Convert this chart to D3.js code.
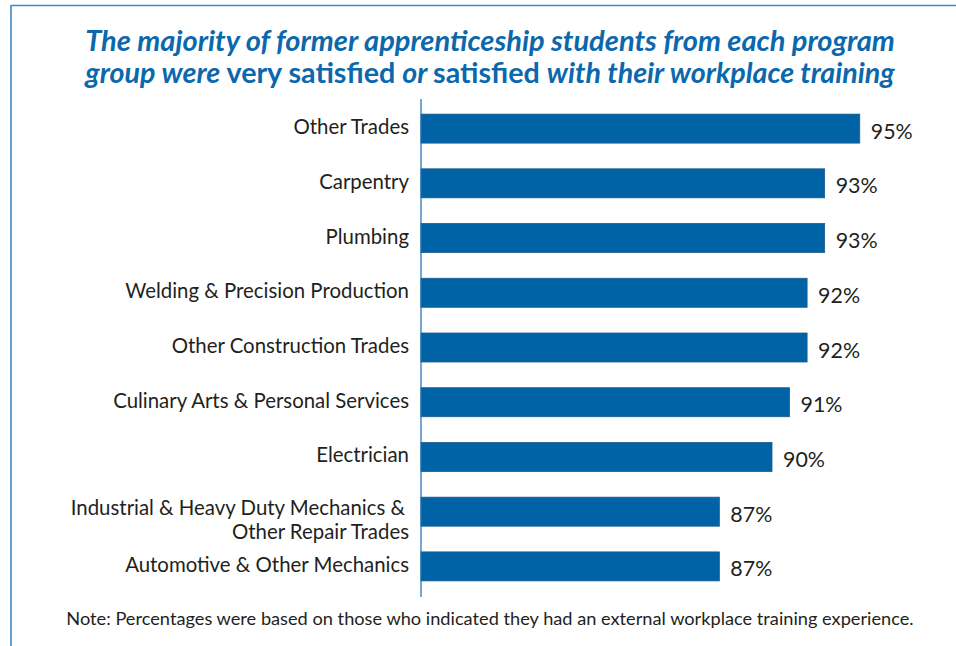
<!DOCTYPE html>
<html>
<head>
<meta charset="utf-8">
<script src="https://cdn.jsdelivr.net/npm/d3@7"></script>
<style>
  html, body { margin: 0; padding: 0; background: #ffffff; }
  svg { display: block; }
</style>
</head>
<body>
<svg id="chart" width="956" height="646"></svg>
<script>
// Program groups, top to bottom
const categories = [
  "Other Trades",
  "Carpentry",
  "Plumbing",
  "Welding & Precision Production",
  "Other Construction Trades",
  "Culinary Arts & Personal Services",
  "Electrician",
  "Industrial & Heavy Duty Mechanics &|Other Repair Trades",
  "Automotive & Other Mechanics"
];
// Percent very satisfied or satisfied
const satisfied = [95, 93, 93, 92, 92, 91, 90, 87, 87];

const titleLines = [
  [{t: "The majority of former apprenticeship students from each program", it: true}],
  [{t: "group were ", it: true}, {t: "very satisfied ", it: false}, {t: "or ", it: true},
   {t: "satisfied ", it: false}, {t: "with their workplace training", it: true}]
];
const note = "Note: Percentages were based on those who indicated they had an external workplace training experience.";

const data = categories.map((c, i) => ({ cat: c, value: satisfied[i] }));

const svg = d3.select("#chart");
const FONT = "Lato, 'Open Sans', sans-serif";
const BLUE = "#0063a6";
const TEXT = "#231f20";

// size a text so that its rendered width equals the given width
function fitWidth(sel, baseSize, width) {
  sel.attr("font-size", baseSize);
  const w = sel.node().getComputedTextLength();
  sel.attr("font-size", baseSize * width / w);
  return baseSize * width / w;
}

// Frame lines along the top and left
svg.append("line").attr("x1", 11).attr("x2", 956).attr("y1", 5.5).attr("y2", 5.5)
  .attr("stroke", "#3a88c9").attr("stroke-width", 1.6);
svg.append("line").attr("x1", 11).attr("x2", 11).attr("y1", 5).attr("y2", 646)
  .attr("stroke", "#3a88c9").attr("stroke-width", 1.6);

// Title
const titleY = [51, 83];
titleLines.forEach((parts, li) => {
  const t = svg.append("text")
    .attr("x", 490).attr("y", titleY[li])
    .attr("text-anchor", "middle")
    .attr("font-family", FONT)
    .attr("font-weight", 700)
    .attr("fill", "#0b68ad");
  parts.forEach(p => {
    t.append("tspan").attr("font-style", p.it ? "italic" : "normal").text(p.t);
  });
  fitWidth(t, 24, 810);
});

// Scales
const x = d3.scaleLinear().domain([70, 100]).range([421, 421 + 30 * 17.55]);
const y = d3.scaleBand().domain(categories).range([99, 596])
  .paddingInner(0.47).paddingOuter(0.276);

// Bars
svg.append("g").selectAll("rect").data(data).join("rect")
  .attr("x", x(70))
  .attr("y", d => y(d.cat))
  .attr("width", d => x(d.value) - x(70))
  .attr("height", y.bandwidth())
  .attr("fill", BLUE)
  .attr("stroke", "#1f5a8e")
  .attr("stroke-width", 0.8);

// label size taken from the widest single-line category
const probe = svg.append("text").attr("font-family", FONT).text("Welding & Precision Production");
const labelSize = fitWidth(probe, 18, 284);
probe.remove();

// Category axis
const yAxis = svg.append("g")
  .attr("transform", `translate(${x(70)},0)`)
  .call(d3.axisLeft(y).tickSize(0).tickSizeOuter(0).tickPadding(12).tickFormat(() => ""));
yAxis.select(".domain").attr("stroke", "#1a6db4").attr("stroke-width", 1.2)
  .attr("d", "M0,99V597");

yAxis.selectAll(".tick text").each(function(d) {
  const el = d3.select(this);
  const lines = d.split("|");
  el.text(null)
    .attr("font-family", FONT)
    .attr("font-size", labelSize)
    .attr("fill", TEXT)
    .attr("x", -12)
    .attr("dy", null)
    .attr("text-anchor", "end");
  if (lines.length === 1) {
    el.append("tspan").attr("x", -12).attr("y", 5.5).text(lines[0]);
  } else {
    el.append("tspan").attr("x", -16).attr("y", 3).text(lines[0]);
    el.append("tspan").attr("x", -12).attr("y", 27).text(lines[1]);
  }
});

// Value labels
const probe2 = svg.append("text").attr("font-family", FONT).text("95%");
const valueSize = fitWidth(probe2, 20, 42);
probe2.remove();

svg.append("g").selectAll("text").data(data).join("text")
  .attr("x", d => x(d.value) + 11)
  .attr("y", d => y(d.cat) + y.bandwidth() / 2 + 10)
  .attr("font-family", FONT)
  .attr("font-size", valueSize)
  .attr("fill", TEXT)
  .text(d => d3.format("d")(d.value) + "%");

// Footnote
const noteText = svg.append("text")
  .attr("x", 490).attr("y", 625)
  .attr("text-anchor", "middle")
  .attr("font-family", FONT)
  .attr("fill", TEXT)
  .text(note);
fitWidth(noteText, 15, 848);
</script>
</body>
</html>
